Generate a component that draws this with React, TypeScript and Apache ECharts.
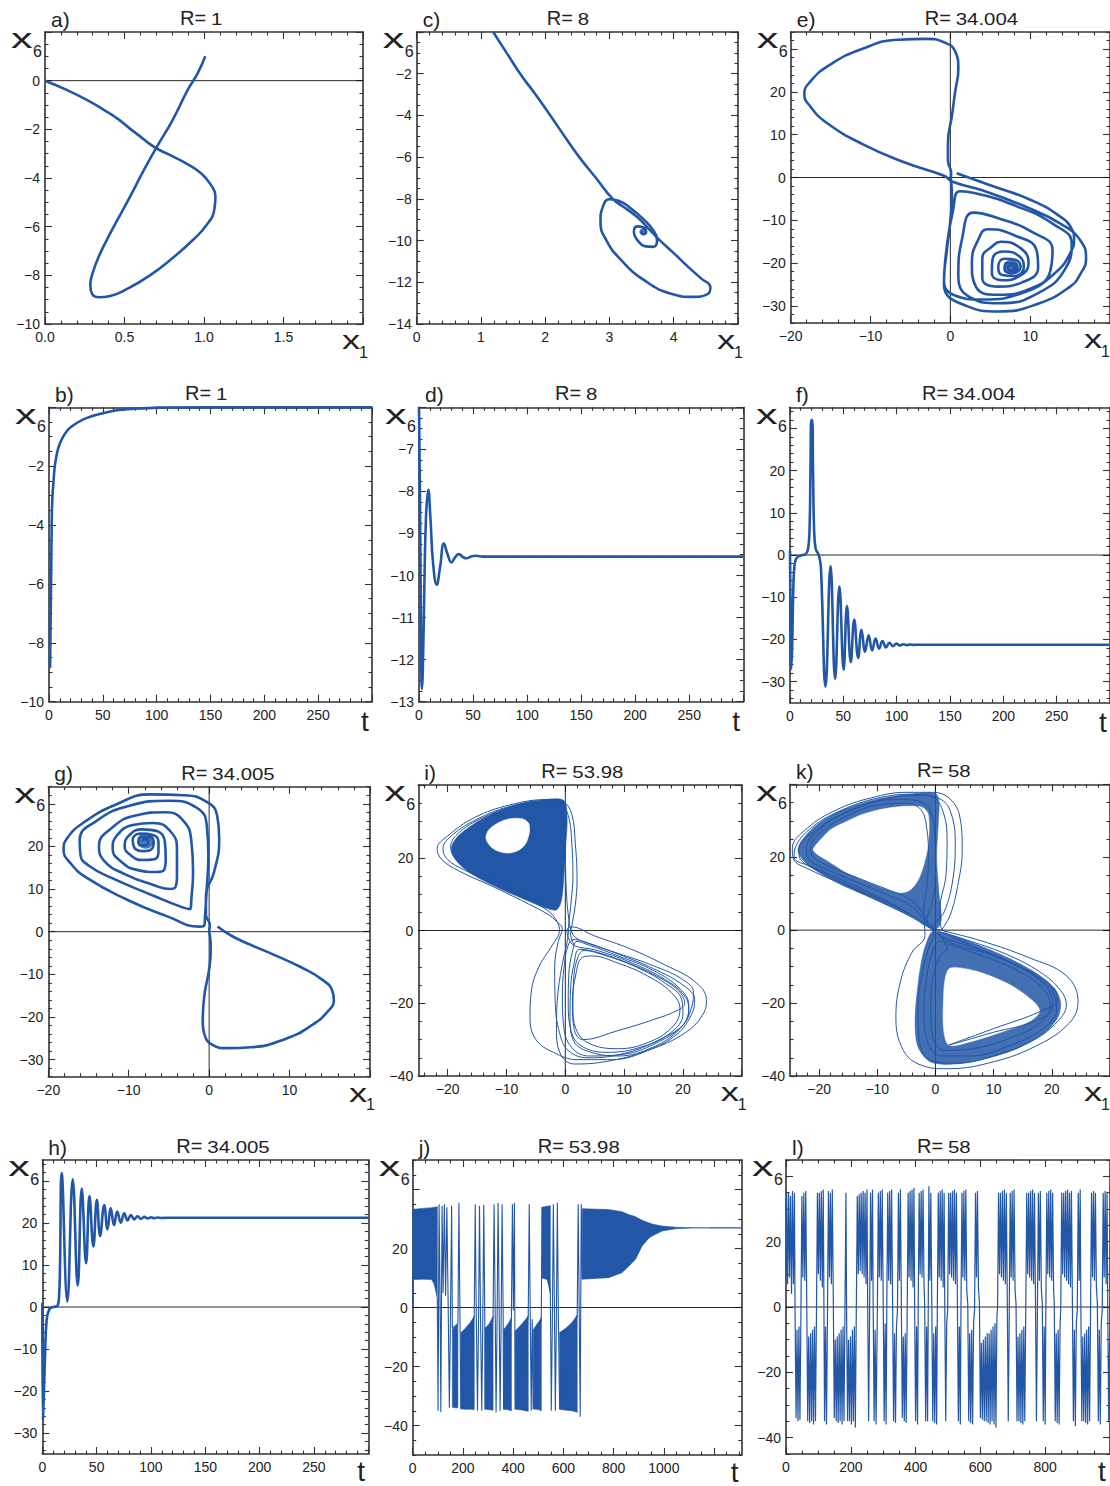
import React, { useEffect, useRef } from "react";
import * as echarts from "echarts";

const FONT = "'Liberation Sans', Arial, Helvetica, sans-serif";
const BLUE = "#2256a6";
const FRAME = "#333333";
const INK = "#222222";

// ---------------- data ----------------
// a) R=1 phase portrait [x1, x6]
const aPhase = [
  [0, 0], [0.137, -0.38], [0.263, -0.79], [0.37, -1.2], [0.46, -1.58], [0.53, -1.95], [0.6, -2.3], [0.662, -2.62],
  [0.72, -2.85], [0.8, -3.1], [0.893, -3.42], [0.98, -3.8], [1.04, -4.25], [1.072, -4.75], [1.065, -5.3],
  [1.02, -5.9], [0.93, -6.55], [0.8, -7.3], [0.66, -8.0], [0.52, -8.55], [0.41, -8.85], [0.34, -8.9],
  [0.295, -8.75], [0.285, -8.4], [0.3, -7.9], [0.34, -7.2], [0.42, -6.15], [0.52, -4.95], [0.62, -3.7], [0.704, -2.71],
  [0.8, -1.65], [0.9, -0.35], [0.96, 0.3], [1.008, 1.0],
];
// b) R=1 time series [t, x6]
const bTime = [
  [1, -8.86], [1.5, -7.2], [2, -5.7], [2.5, -4.0], [3, -3.2], [4, -2.6], [5.6, -1.94], [8.75, -1.37], [13.4, -0.98],
  [19.7, -0.69], [32, -0.41], [48, -0.22], [63, -0.1], [79, -0.05], [101, -0.01], [150, 0], [300, 0],
];
// c) R=8 phase portrait
const cPhase = [
  [1.19, 0], [1.4, -1], [1.61, -2], [1.85, -3], [2.08, -4], [2.3, -5], [2.53, -6], [2.79, -7], [3.05, -8],
  [3.25, -8.45], [3.44, -8.9], [3.6, -9.4], [3.78, -9.98], [4.0, -10.6], [4.22, -11.25],
  [4.42, -11.8], [4.57, -12.25], [4.52, -12.58], [4.3, -12.7], [3.96, -12.55], [3.54, -11.9], [3.18, -10.93],
  [2.95, -9.98], [2.86, -9.1], [2.9, -8.35], [3.0, -8.02], [3.15, -8.1], [3.33, -8.45], [3.52, -8.95], [3.68, -9.5],
  [3.74, -10.0], [3.68, -10.3], [3.56, -10.28], [3.44, -10.0], [3.38, -9.6], [3.43, -9.32], [3.52, -9.36],
  [3.57, -9.6], [3.53, -9.7], [3.5, -9.6], [3.52, -9.55],
];
const cFixed = [3.52, -9.58];
// d) R=8 time series
const dTime = [
  [0, -6.0], [1, -8.5], [2, -11.8], [2.7, -12.7], [3.5, -12.3], [5, -10.2], [6.5, -8.6], [8.6, -7.96], [10.5, -8.6],
  [13, -9.7], [16.4, -10.22], [19.5, -9.8], [23, -9.24], [26.5, -9.5], [30, -9.69], [33.5, -9.56], [37, -9.49],
  [40.5, -9.56], [44, -9.59], [48, -9.55], [52, -9.53], [60, -9.55], [300, -9.55],
];
// e) R=34.004 phase portrait
const ePhase = [
  [0.8, 1.0], [5, -1.8], [10, -5.2], [13.5, -8.8], [15.2, -12], [15.5, -14.5], [15.2, -17], [13, -22.5], [9, -27],
  [4, -28.5], [0.5, -27.5], [-0.8, -24], [-0.5, -18], [0, -10], [0.2, -4], [0.1, -1], [0.05, -0.2],
  [0.1, 1], [-0.3, 4], [-0.3, 8], [0.2, 14.5], [0.6, 20], [1, 25.4], [0.6, 29.5], [-0.8, 31.6], [-3, 32.4],
  [-6.5, 32.2], [-11, 30.1], [-15.2, 26.2], [-17.6, 22.3], [-18.3, 19.5], [-17.5, 16.5], [-15.5, 12.8], [-11, 7.8],
  [-5.7, 3.5], [-0.8, 0.4],
  [0.3, -1], [4, -3], [9, -6.5], [14, -11], [16.4, -15], [17, -19], [16.3, -22.5], [15, -25.5], [11, -29.5],
  [6, -31.3], [2, -30], [-0.8, -25], [-0.5, -17], [0.3, -8], [1.2, -3.2],
  [3, -3.6], [8, -6.5], [13, -11], [15.2, -15.5], [14.5, -21], [11, -27], [6, -29.4], [2.5, -28], [1, -23],
  [1.5, -14], [2.9, -8.2],
  [6, -9.5], [10, -12.5], [12.8, -17], [12.5, -22], [10, -26], [6, -27.4], [3.2, -25.5], [2.7, -20], [3.5, -14.5],
  [4.7, -12.1],
  [8, -13.5], [10.8, -17], [11, -21], [9, -24.5], [6, -25.5], [4, -23.5], [4, -19], [5.3, -16], [6.3, -15],
  [8.8, -16.5], [9.8, -20], [8.7, -23], [6.5, -24], [5.2, -22.3], [5.3, -19], [6.8, -17.3],
  [8.7, -18.5], [9.2, -21], [8, -23], [6.5, -22.8], [6, -21], [6.8, -19], [8.2, -19.3], [8.8, -21], [7.8, -22.3],
  [6.8, -21.5], [7, -20], [8.2, -20.1], [8.4, -21.2], [7.6, -21.8], [7.2, -21], [7.8, -20.5], [8.1, -21.2],
  [7.7, -21.4],
];
const eFixed = [7.6, -21];
// f) R=34.004 time series
const fTime = [
  [0, 1], [0.5, -15], [1.2, -27], [2, -22], [3, -9], [4, -3], [5.5, -1], [8, -0.3], [12, 0], [15, 0.3], [17, 1.5],
  [18.3, 6], [19.2, 20], [20, 32], [20.8, 32], [21.6, 20], [22.6, 6], [24, 1.5], [26, 0.5], [27.5, -0.5], [29, -3],
  [33.3, -31.2], [38, -2.6], [42.3, -29.4], [46.3, -7.5], [50.3, -27.2], [53.4, -12.1], [57, -25.4], [60.2, -15.3],
  [63.9, -24.4], [67, -17.7], [70.4, -22.9], [73.7, -19], [77, -22.6], [80.3, -19.8], [83.5, -22.2], [86.7, -20.4],
  [90, -21.9], [93.2, -20.8], [96.5, -21.6], [99.7, -21.0], [103, -21.45], [106.2, -21.15], [109.5, -21.35],
  [113, -21.2], [116, -21.3], [120, -21.25], [300, -21.25],
];
// g) R=34.005 phase portrait
const gPhase = [
  [1.04, 1.2], [3.1, -1.3], [7.3, -4.8], [11.5, -8.4], [14.1, -11.3], [15.3, -13.8], [15.5, -16], [14.9, -18.4],
  [12.7, -22], [9.4, -25.2], [5.2, -27.1], [2.3, -27.3], [0.3, -26.4], [-0.6, -24], [-0.8, -21.3], [-0.6, -15],
  [0, -8.8], [0.2, -4.1], [0.1, -0.9], [0, 0],
  [0.1, 1.5], [-0.4, 4], [-0.4, 8.4], [0.6, 13.9], [1.25, 21.7], [1, 27.2], [-0.2, 30.3], [-3.1, 32], [-7.3, 32.2],
  [-11.5, 29.9], [-15.6, 25.6], [-17.7, 21.8], [-18.1, 19.2], [-17.3, 16.2], [-15.2, 12.6], [-10.2, 7.5],
  [-5.2, 3.6], [-1.2, 1.2], [-0.6, 1.5],
  [-0.5, 4], [-0.3, 10], [-0.1, 18], [-0.3, 25], [-1.5, 29], [-5, 30.7], [-10, 29.5], [-14, 26], [-16.1, 21.5],
  [-16, 18], [-14.8, 15.3], [-12, 12.5], [-7, 8.5], [-3.3, 5.7], [-2.4, 5.3],
  [-2.2, 8], [-2, 14], [-2.2, 21], [-3.2, 26], [-5.5, 28], [-9, 27.3], [-12, 24.5], [-13.7, 20], [-13, 16.5],
  [-10.5, 13.5], [-7, 11], [-4.8, 10], [-4.2, 10.4],
  [-4, 13], [-4, 19], [-4.8, 23.5], [-7, 25.5], [-9.5, 25], [-11.5, 22.5], [-12, 19.5], [-11, 16.5], [-9, 14.5],
  [-6.5, 14], [-5.6, 14.5],
  [-5.4, 17], [-5.5, 21], [-6.5, 23.6], [-8.3, 24], [-10, 22.5], [-10.5, 20], [-9.8, 18], [-8.3, 16.8], [-6.8, 17],
  [-6.3, 18.8], [-6.3, 21], [-7, 22.7], [-8.5, 23], [-9.5, 21.5], [-9.3, 19.7], [-8.2, 18.9], [-7.1, 19.5],
  [-6.9, 21], [-7.4, 22.2], [-8.5, 22.2], [-8.8, 21], [-8.3, 20.2], [-7.6, 20.6], [-7.6, 21.5], [-8.1, 21.7],
  [-8.2, 21.2],
];
const gFixed = [-7.9, 21.3];
// h) R=34.005 time series
const hTime = [
  [0, 1], [0.5, -27], [1.5, -20], [2.5, -12], [4, -3], [6.5, -0.5], [10, 0], [14, 0.3], [15.5, 3], [16.3, 10],
  [17.8, 31.9], [23, 1.3], [28, 30.4], [32.6, 5.1], [36.3, 28.2], [40.3, 10.4], [43.4, 26.4], [47, 14.4],
  [50.2, 25.5], [53.2, 16.9], [57, 24.3], [60, 18.5], [63, 23.5], [66, 19.5], [69, 22.7], [72.3, 20.1],
  [75.4, 22.3], [78.5, 20.6], [81.5, 21.9], [84.6, 20.85], [87.7, 21.6], [90.8, 21.0], [94, 21.45], [97, 21.1],
  [100, 21.35], [103, 21.15], [106, 21.3], [110, 21.2], [115, 21.25], [300, 21.25],
];
// i) R=53.98 phase portrait: dense region outline, its hole, and individual orbits
const iDenseOutline = [
  [-0.3, 35.8], [0.3, 31], [0.1, 24], [-0.2, 16], [-0.5, 10], [-0.9, 7], [-1.6, 5.6], [-3.5, 6.3], [-7, 8.6],
  [-11, 11.4], [-14.5, 14.2], [-17.3, 17.2], [-19, 20.3], [-19.3, 23.2], [-18.2, 26], [-15.8, 29], [-12.5, 32],
  [-8.5, 34.5], [-4.5, 35.8],
];
const iHole = [
  [-13.5, 25.4], [-13, 27.7], [-11.5, 29.5], [-9.5, 30.7], [-7.3, 30.7], [-6.25, 29.5], [-6.1, 27.2], [-6.7, 24],
  [-7.8, 22.2], [-9.5, 21.3], [-11.25, 21.7], [-12.7, 23.1],
];
const iOrbit = [
  [1.5, -4], [0.9, -1], [1.2, 2], [1.7, 7], [2, 14], [1.7, 24], [1.1, 32], [-0.3, 35.3], [-3, 36], [-9.5, 34.5],
  [-15.5, 31], [-20, 26], [-21.8, 22.5], [-21, 19.5], [-18, 16.3], [-13, 12.6], [-7.5, 8.3], [-3, 4.5],
  [-1.5, 2.5], [-0.5, 0.5],
  [-1.2, -3], [-1.8, -10], [-1.7, -20], [-1, -28], [0.5, -33], [4, -35], [10, -33.8], [16, -30], [20.5, -25],
  [21, -20.5], [19.5, -16], [15, -11], [9, -7], [4, -4], [2, -3],
  [1.2, -6], [0.6, -12], [0.5, -20], [0.9, -27], [2.5, -31.5], [7, -33.5], [13, -32], [18, -28], [20, -23],
  [19.8, -19], [17, -14.5], [12, -10], [7, -7], [3.2, -5.5],
  [2, -8], [1.4, -14], [1.3, -21], [1.8, -27], [4, -31], [9, -32.5], [14.5, -30.5], [18.5, -26], [19.5, -21.5],
  [18, -17], [14, -12.5], [9, -9], [4.5, -7], [2.8, -7.5],
  [1.8, -12], [1.2, -20], [1.5, -27], [3, -30], [9, -27.5], [15, -24.5], [19, -22], [20.3, -20], [19.2, -16.5],
  [15.5, -12.5], [10, -8.5], [5, -5.8], [2.4, -5.2],
  [1.5, -9], [0.9, -16], [0.8, -24], [1.3, -30], [3.5, -33], [9, -34.5], [15, -32], [19.5, -27], [21, -22],
  [20.3, -18], [17, -13.5], [11, -8.7], [5, -5.3], [1.6, -4.2],
  [0.5, -2], [0.3, 0.2], [1, 1], [5, -1.5], [11, -5], [17, -9.5], [22, -14], [24, -19], [23.6, -22.5], [20.5, -28],
  [14, -33], [7, -36], [1.5, -36.7], [-0.8, -34], [-1.5, -27], [-1.3, -18], [-0.6, -10], [0.2, -4], [0.5, -1],
  [0.6, 2], [1, 8], [1.3, 15], [1.1, 24], [0.6, 31], [-0.6, 34.5], [-3.5, 35.5], [-9, 34.3], [-14.5, 31],
  [-19, 26.5], [-20.8, 22.5], [-20, 19.5], [-17, 16.5], [-12, 12.8], [-7, 9], [-3, 5.5], [-1.4, 2.5], [-1, 0],
  [-2.2, -4], [-4.5, -10], [-5.8, -17], [-6, -24], [-5, -30], [-2, -33.5], [2, -35.5], [8, -35.5], [14, -33],
  [19, -28.5], [21.5, -23], [22, -19], [20, -15], [15, -10.5], [9, -6.5], [4, -3.5], [1.5, -2.5],
  [0.5, -4], [-0.2, -10], [-0.5, -18], [-0.3, -26], [1, -32], [4, -34.5], [10, -34], [16, -30.5], [20, -26],
  [21.5, -21], [21.8, -17], [20, -13.5], [15, -9.7], [9, -6.3], [4, -3.6], [1.8, -2], [1, 0],
  [0.6, 3], [0.2, 10], [0, 20], [-0.2, 28], [-1, 33], [-4, 34.8], [-9, 34], [-14, 31], [-18, 27], [-19.5, 23],
  [-18.8, 20], [-16, 17], [-11, 13.5], [-6, 10], [-2.5, 7],
];
// k) R=58 phase portrait: dense band outlines, holes, individual orbits
const kUpperOutline = [
  [0, 37.5], [-4.3, 37.3], [-9.9, 36], [-15.6, 33.2], [-20.2, 29.1], [-23, 24.5], [-23.6, 21.5], [-22, 18],
  [-17.5, 13.5], [-12, 9.5], [-6.5, 5.5], [-3, 2.8], [-1.2, 1], [0.3, 0.5], [1, 3], [0.6, 10], [0.2, 20],
  [0.5, 30], [0.6, 35],
];
const kUpperHole = [
  [-21, 22.2], [-19.5, 25.2], [-17.9, 27.7], [-15, 30], [-12.8, 31.6], [-10, 32.9], [-7.1, 33.7], [-4.5, 34],
  [-2.3, 33.7], [-1.3, 32], [-1.1, 28], [-1.3, 23], [-2, 18], [-2.9, 14], [-4, 11.5], [-5, 10.5], [-6.3, 10.3],
  [-8.8, 11.5], [-12, 13.5], [-15.5, 16], [-18.5, 19], [-20.5, 21],
];
const kLowerOutline = [
  [0.5, -0.5], [3, -1.5], [8, -4.5], [13, -8], [17.5, -12], [20.5, -16], [21.5, -20], [21, -24], [18.5, -28.5],
  [14, -32.5], [8, -35.5], [2.5, -36.8], [-1, -36], [-3, -32], [-3.5, -25], [-3, -15], [-2.2, -7], [-1.2, -2],
  [-0.5, -0.3],
];
const kLowerHole = [
  [2.6, -10.4], [7.1, -11.3], [12.8, -15], [16.8, -19.5], [17.9, -22.3], [16.2, -25], [11.6, -27.8], [6, -30.6],
  [2.3, -31.5], [1.4, -26.9], [1.4, -18.6], [1.7, -13.1],
];
const kOrbit = [
  [1, 0], [2.5, 4], [3.8, 12], [4.6, 22], [4.2, 31], [2.5, 36], [-0.5, 37.8], [-5, 37.8], [-11, 36.3], [-17, 33],
  [-22, 28], [-24.6, 22.5], [-24.4, 19.5], [-21.5, 16.5], [-15, 12], [-9, 7.5], [-4, 3.5], [-1.5, 1], [0, 0],
  [0.5, -0.3], [5, -2.5], [12, -6.5], [18, -11.5], [21.5, -16.5], [22.5, -20.5], [21, -25], [17, -30], [10, -34.5],
  [3.5, -36.5], [-1, -35.5], [-2.8, -30], [-3, -21], [-2.3, -12], [-1.2, -5], [-0.3, -1],
  [-0.5, 0.3], [1.5, 5], [3, 14], [3.4, 24], [2.7, 32], [1, 35.8], [-3, 37], [-9, 35.8], [-15, 32.5],
  [-20.5, 27.5], [-23.5, 22], [-23, 19], [-19.5, 15.8], [-13.5, 11.3], [-7.5, 7], [-3, 3], [-1, 0.8],
  [1.5, -2], [7, -5], [13, -9], [18, -13.5], [20.5, -18], [20.8, -22], [18.5, -27], [13, -31.5], [6, -34.5],
  [1, -34.5], [-1.5, -30], [-2, -22], [-1.5, -13], [-0.5, -6], [0.8, -3],
  [2.5, -4], [8, -7], [14, -11], [18.5, -16], [19.8, -21], [18, -25.5], [13, -29.5], [6.5, -32.5], [1.5, -33],
  [-0.5, -29], [-0.8, -20], [-0.3, -12], [0.8, -7], [2, -5],
  [1, -2], [-1.5, 2.5], [-0.5, 8], [0, 16], [-0.1, 25], [-0.6, 31.5], [-2, 34.8], [-6, 35.8], [-11, 35],
  [-16, 31.8], [-20, 27.5], [-22.2, 22.5], [-21.8, 19.5], [-18.5, 16.5], [-13, 12.8], [-8, 9.5], [-4.5, 7],
  [-2.5, 4], [-1, 1],
  [1, 0], [8, -3], [16, -7.5], [22.5, -12.5], [24.5, -19.5], [23, -25.5], [17, -32], [9, -36.5], [2, -38],
  [-2.5, -37], [-5.5, -33], [-6.8, -24], [-6, -14], [-4, -6], [-1.8, -1.5],
  [-2, 5], [-1.5, 12], [-1.2, 20], [-1.5, 28], [-2.5, 33], [-5, 34.8], [-10, 34.3], [-15, 31.5], [-19.5, 27],
  [-21.5, 22.5], [-21, 20], [-17.5, 17], [-12.5, 13.8], [-8, 11], [-5, 9], [-3, 6.5], [-1.2, 2],
  [2, -3], [9, -6.5], [15.5, -11], [19.5, -16.5], [20.2, -21], [17, -25], [10, -28], [3.5, -31], [2.3, -31.5],
  [10, -27], [18, -22.3], [21, -19], [19, -14], [13, -9], [6, -4], [2, -1], [0.8, 2],
  [0.8, 6], [1.8, 15], [2, 25], [1.2, 33], [-0.5, 36.5], [-4, 37.3], [-10, 36.2], [-16, 33], [-21, 28.5],
  [-24, 23], [-24.3, 20], [-21, 17.3], [-15, 13], [-9, 8.5], [-4.5, 4.5], [-1.8, 1.5],
];
// j) R=53.98 time series: dense oscillation bands [t, low, high] and switching strokes [t, x6]
const jBandStart = [[0, 0, 32], [2, 9.5, 33.3], [40, 9.6, 33.6], [75, 9.5, 33.8], [85, 8, 34], [92, 5.5, 34], [98, 3, 34.2]];
const jBandLow1 = [[158, -33.8, -7.3], [170, -34, -6.5], [180, -34, -5.5]];
const jBandLow2 = [[192, -34.4, -8.5], [210, -34.5, -7], [230, -34.5, -5], [245, -34.6, -3]];
const jBandLow3 = [[288, -34.5, -7], [305, -34.6, -5.5], [320, -34.8, -3]];
const jBandLow4 = [[362, -34.5, -7.5], [380, -34.7, -5.5], [393, -35, -3.5]];
const jBandLow5 = [[408, -34.5, -8], [430, -34.7, -6], [450, -35, -4], [460, -35.2, -2.8]];
const jBandLow6 = [[480, -34.4, -7.5], [500, -34.6, -5], [512, -35, -3.5]];
const jBandUp7 = [[515, 10, 34], [535, 9.5, 34.3], [548, 5, 34.5]];
const jBandLow8 = [[585, -34.5, -8.5], [610, -34.8, -7], [635, -35, -5], [655, -35.5, -2.5]];
const jBandEnd = [
  [675, 9.6, 33.5], [780, 10.1, 33.2], [833, 11.8, 32.5], [860, 14, 31.5], [887, 16.3, 30.8], [913, 20.8, 29.6],
  [940, 23.5, 28.7], [953, 24.2, 28.3], [993, 25.9, 27.6], [1047, 26.7, 27.2], [1113, 26.95, 27.05], [1180, 27, 27],
];
const jTail = [[1180, 27], [1310, 27]];
const jStrokes = [
  [98, 3], [101, -35], [105, 35], [109, 3], [112, -35.5], [117, 34.5], [121, 5], [126, 35], [131, 4], [136, 34],
  [141, 2], [146, -34], [150, -6], [155, 34.5], [158, -7],
  [180, -5.5], [184, 35.5], [188, -2], [192, -34.4],
  [245, -3], [249, 35], [253, -1], [258, -35], [262, -6], [266, 34.5], [270, -3], [275, -35], [279, -5],
  [283, 34.8], [287, -2], [288, -34.5],
  [320, -3], [324, 35], [328, 3], [332, -35.5], [336, -4], [340, 35.5], [344, 2], [348, -35], [352, -5],
  [356, 35], [360, -2], [362, -34.5],
  [393, -3.5], [397, 35], [401, -1], [405, 35.5], [408, -34.5],
  [460, -2.8], [464, 35], [468, -2], [472, -35], [476, -4], [480, -34.4],
  [512, -3.5], [515, 34],
  [548, 5], [552, -35], [556, -5], [560, 35], [564, 3], [568, -35], [572, -4], [576, 35.5], [580, -3],
  [585, -34.5],
  [655, -2.5], [659, 35], [663, -1], [667, -37], [671, 35], [675, 9.6],
];
// l) R=58 time series [t, x6]
const lTime = [
  [0, 8], [2, 35], [5, 7], [8, 35], [11, 9], [14, 34], [17, 4], [20, 35.5], [23, 7], [26, 35], [28, -2],
  [31, -34], [34, -7], [37, -35], [40, -6], [43, -34.5], [46, -3],
  [49, 34], [52, 9], [55, 35], [58, 8], [61, 35.5], [64, 2],
  [67, -35], [70, -9], [73, -35.5], [76, -8], [79, -35], [82, -7], [85, -36], [88, -6], [91, -35], [94, -2],
  [97, 35], [100, 10], [103, 35], [106, 8], [109, 35.5], [112, 6], [115, 36], [117, 1],
  [119, -35], [122, -6], [125, -36], [128, -2],
  [131, 35.5], [134, 9], [137, 35], [140, 7], [143, 36], [146, 2],
  [149, -34], [152, -10], [155, -35], [158, -9], [161, -35.5], [164, -8], [167, -35], [170, -7], [173, -36],
  [176, -6], [179, -35], [182, -1], [185, 35], [187, -1],
  [190, -35], [193, -10], [196, -35], [199, -9], [202, -36], [205, -7], [208, -35], [211, -6], [214, -37], [217, -1],
  [220, 34], [223, 10], [226, 34.5], [229, 11], [232, 35], [235, 10], [238, 35.5], [241, 9], [244, 35], [247, 7],
  [250, 36], [252, 2],
  [255, -35], [258, -3], [261, 35], [264, 8], [267, 36], [269, 1],
  [272, -35], [275, -7], [278, -36], [282, -1],
  [285, 35], [288, 9], [291, 35.5], [294, 8], [297, 36], [300, 2],
  [303, -35], [306, -5], [309, -36], [311, -1],
  [314, 35], [317, 8], [320, 35.5], [323, 7], [326, 36], [329, 1],
  [332, -35], [335, -8], [338, -35.5], [341, -6], [344, -1],
  [347, 35], [350, 8], [353, 36], [356, 1],
  [359, -34], [362, -9], [365, -35], [368, -8], [371, -35.5], [374, -2],
  [377, 35], [380, 9], [383, 35.5], [386, 8], [389, 36], [392, 6], [395, 36.5], [397, 1],
  [400, -35], [403, -6], [406, -36], [408, -1],
  [411, 35], [414, 10], [417, 35.5], [420, 9], [423, 36], [426, 7], [428, 1],
  [431, -35], [434, -6], [437, -35], [439, -1],
  [441, 37], [444, 8], [447, 35], [450, 1],
  [453, -35], [456, -8], [459, -35.5], [462, -6], [465, -36], [467, -1],
  [470, 35], [473, 9], [476, 35.5], [479, 8], [482, 36], [485, 6], [488, 35], [490, 1],
  [493, -35], [496, -5], [499, -1],
  [502, 35], [505, 10], [508, 35], [511, 9], [514, 35.5], [517, 8], [520, 36], [523, 7], [526, 35], [529, 1],
  [532, -35], [535, -6], [538, -36], [540, -1],
  [543, 35], [546, 9], [549, 35.5], [552, 8], [555, 36], [558, 5], [561, 1],
  [564, -35], [567, -8], [570, -35.5], [573, -7], [576, -36], [579, -5], [582, -1],
  [585, 35], [588, 9], [591, 35.5], [594, 6], [597, 1],
  [600, -34], [603, -11], [606, -34.5], [609, -10], [612, -35], [615, -9], [618, -35], [621, -8], [624, -35.5],
  [627, -8], [630, -36], [633, -7], [636, -35], [639, -6], [642, -36], [645, -5], [648, -37], [651, -3], [653, 0],
  [656, 35], [659, 10], [662, 35], [665, 9], [668, 35.5], [671, 8], [674, 36], [677, 7], [680, 35], [683, 2],
  [686, -35], [689, -2],
  [692, 35], [695, 9], [698, 35.5], [701, 8], [704, 36], [707, 5], [710, 1],
  [713, -35], [716, -9], [719, -35], [722, -8], [725, -35.5], [728, -7], [731, -36], [734, -6], [737, -35], [740, -1],
  [743, 35], [746, 10], [749, 35], [752, 9], [755, 35.5], [758, 8], [761, 36], [764, 7], [767, 35], [770, 2],
  [773, -35], [776, -1], [779, 35], [782, 8], [785, 35.5], [788, 6], [791, 1],
  [794, -35], [797, -6], [800, -36], [802, -1],
  [805, 35], [808, 10], [811, 35.5], [814, 9], [817, 36], [820, 8], [823, 35], [826, 5], [828, 1],
  [831, -35], [834, -8], [837, -35.5], [840, -7], [843, -36], [846, -5], [848, -1],
  [851, 35], [854, 10], [857, 35], [860, 9], [863, 35.5], [866, 8], [869, 36], [872, 7], [875, 35], [878, 6],
  [881, 35.5], [884, 1],
  [887, -35], [890, -7], [893, -36.5], [896, -5], [899, -1],
  [902, 35], [905, 8], [908, 36], [910, 1],
  [913, -35], [916, -9], [919, -35], [922, -8], [925, -35.5], [928, -7], [931, -36], [934, -6], [937, -35], [940, -1],
  [943, 35], [946, 9], [949, 35.5], [952, 8], [955, 35], [958, 6], [961, 1],
  [964, -35], [967, -7], [970, -36], [973, -5], [976, -1],
  [979, 35], [982, 9], [985, 35.5], [988, 7], [991, 35], [993, 1],
  [996, -35], [999, -8],
];

// ---------------- panel layout ----------------
type Panel = {
  id: string; letter: string; r: string; rOff: number;
  left: number; top: number; width: number; height: number;
  x: [number, number]; y: [number, number];
  xs: number; xm: number; ys: number; ym: number;
  xHide: number[]; yHide: number[]; xDec: number;
  name: "x" | "t"; zeroH: boolean; zeroV: boolean; tDy: number; nameX?: number;
};

const PANELS: Panel[] = [
  { id: "a", letter: "a)", r: "1", rOff: 135, left: 45, top: 32, width: 318, height: 292, x: [0, 2], y: [-10, 2], xs: 0.5, xm: 0.1, ys: 2, ym: 0.5, xHide: [2], yHide: [2], xDec: 1, name: "x", zeroH: true, zeroV: false, tDy: 0 },
  { id: "c", letter: "c)", r: "8", rOff: 130, left: 416.7, top: 32, width: 321.3, height: 292, x: [0, 5], y: [-14, 0], xs: 1, xm: 0.2, ys: 2, ym: 0.5, xHide: [5], yHide: [0], xDec: 0, name: "x", zeroH: false, zeroV: false, tDy: 0 },
  { id: "e", letter: "e)", r: "34.004", rOff: 134, left: 790.7, top: 32, width: 324.3, height: 291, x: [-20, 20], y: [-34, 34], xs: 10, xm: 2, ys: 10, ym: 2, xHide: [20], yHide: [30], xDec: 0, name: "x", zeroH: true, zeroV: true, tDy: 0, nameX: 1084 },
  { id: "b", letter: "b)", r: "1", rOff: 136, left: 49, top: 407.3, width: 323, height: 294.4, x: [0, 300], y: [-10, 0], xs: 50, xm: 10, ys: 2, ym: 0.5, xHide: [300], yHide: [0], xDec: 0, name: "t", zeroH: false, zeroV: false, tDy: 20 },
  { id: "d", letter: "d)", r: "8", rOff: 136, left: 419, top: 407.3, width: 324.3, height: 294.4, x: [0, 300], y: [-13, -6], xs: 50, xm: 10, ys: 1, ym: 0.25, xHide: [300], yHide: [-6], xDec: 0, name: "t", zeroH: false, zeroV: false, tDy: 20 },
  { id: "f", letter: "f)", r: "34.004", rOff: 132, left: 790, top: 407.3, width: 324, height: 295.4, x: [0, 300], y: [-35, 35], xs: 50, xm: 10, ys: 10, ym: 2, xHide: [300], yHide: [30], xDec: 0, name: "t", zeroH: true, zeroV: false, tDy: 20, nameX: 1099 },
  { id: "g", letter: "g)", r: "34.005", rOff: 133, left: 48.3, top: 786.7, width: 321.7, height: 290, x: [-20, 20], y: [-34, 34], xs: 10, xm: 2, ys: 10, ym: 2, xHide: [20], yHide: [30], xDec: 0, name: "x", zeroH: true, zeroV: true, tDy: 0 },
  { id: "i", letter: "i)", r: "53.98", rOff: 123, left: 418.3, top: 785, width: 323.4, height: 291, x: [-25, 30], y: [-40, 40], xs: 10, xm: 2, ys: 20, ym: 5, xHide: [30], yHide: [40], xDec: 0, name: "x", zeroH: true, zeroV: true, tDy: 0 },
  { id: "k", letter: "k)", r: "58", rOff: 127, left: 790, top: 784.3, width: 323, height: 291.7, x: [-25, 30], y: [-40, 40], xs: 10, xm: 2, ys: 20, ym: 5, xHide: [30], yHide: [40], xDec: 0, name: "x", zeroH: true, zeroV: true, tDy: 0, nameX: 1084 },
  { id: "h", letter: "h)", r: "34.005", rOff: 134, left: 42.3, top: 1160, width: 326, height: 294, x: [0, 300], y: [-35, 35], xs: 50, xm: 10, ys: 10, ym: 2, xHide: [300], yHide: [30], xDec: 0, name: "t", zeroH: true, zeroV: false, tDy: 17 },
  { id: "j", letter: "j)", r: "53.98", rOff: 125, left: 412.7, top: 1160, width: 329, height: 295, x: [0, 1310], y: [-50, 50], xs: 200, xm: 50, ys: 20, ym: 5, xHide: [1200], yHide: [40], xDec: 0, name: "t", zeroH: true, zeroV: false, tDy: 17 },
  { id: "l", letter: "l)", r: "58", rOff: 131, left: 786, top: 1160, width: 325, height: 294, x: [0, 1000], y: [-45, 45], xs: 200, xm: 50, ys: 20, ym: 5, xHide: [1000], yHide: [40], xDec: 0, name: "t", zeroH: true, zeroV: false, tDy: 17, nameX: 1098 },
];

function ticks(min: number, max: number, step: number): number[] {
  const out: number[] = [];
  const k0 = Math.ceil(min / step - 1e-9);
  const k1 = Math.floor(max / step + 1e-9);
  for (let k = k0; k <= k1; k++) out.push(+(k * step).toFixed(6));
  return out;
}
const fmt = (v: number, dec: number) => {
  const s = Math.abs(v).toFixed(dec);
  return v < -1e-9 ? "\u2212" + s : s;
};

function axis(gi: number, pos: string, range: [number, number], tv: number[], lv: number[] | null, showLine: boolean, len: number, dec: number) {
  return {
    type: "value", gridIndex: gi, position: pos, min: range[0], max: range[1],
    axisLine: { show: showLine, onZero: false, lineStyle: { color: FRAME, width: 1.6 } },
    axisTick: { show: true, inside: true, length: len, customValues: tv, lineStyle: { color: FRAME, width: 1.1 } },
    axisLabel: lv
      ? { show: true, customValues: lv, formatter: (v: number) => fmt(v, dec), color: INK, fontSize: 14, fontFamily: FONT, margin: pos === "bottom" ? 6 : 5 }
      : { show: false },
    splitLine: { show: false }, minorTick: { show: false }, minorSplitLine: { show: false },
    axisPointer: { show: false }, silent: true,
  };
}

function seriesFor(id: string, gi: number): any[] {
  const ax = { xAxisIndex: gi * 4, yAxisIndex: gi * 4 };
  const L = (data: number[][], width: number, smooth: number | boolean = 0.5, z = 3) => ({
    type: "line", ...ax, data, showSymbol: false, symbol: "none", smooth, lineStyle: { color: BLUE, width },
    z, silent: true, clip: true, animation: false,
  });
  const dot = (pt: number[], size: number) => ({
    type: "scatter", ...ax, data: [pt], symbolSize: size, itemStyle: { color: BLUE }, z: 4, silent: true,
  });
  const poly = (pts: number[][], color: string, z: number, opacity = 1) => ({
    type: "custom", ...ax, data: pts, z, silent: true, clip: true,
    renderItem: (params: any, api: any) => {
      if (params.dataIndex !== 0) return null;
      return {
        type: "polygon",
        shape: { points: pts.map((p) => api.coord(p)), smooth: 0.3 },
        style: { fill: color, opacity, stroke: color, lineWidth: 0.6 },
      };
    },
  });
  const band = (rows: number[][]) => ({
    type: "custom", ...ax, data: rows, z: 2, silent: true, clip: true,
    renderItem: (params: any, api: any) => {
      if (params.dataIndex !== 0) return null;
      const pts = [...rows.map((r) => [r[0], r[2]]), ...rows.slice().reverse().map((r) => [r[0], r[1]])];
      return {
        type: "polygon",
        shape: { points: pts.map((p) => api.coord(p)) },
        style: { fill: BLUE, stroke: BLUE, lineWidth: 0.6 },
      };
    },
  });

  switch (id) {
    case "a": return [L(aPhase, 2.6)];
    case "b": return [L(bTime, 2.6, 0.3)];
    case "c": return [L(cPhase, 2.6), dot(cFixed, 7)];
    case "d": return [L(dTime, 2.6, 0.45)];
    case "e": return [L(ePhase, 2.6), dot(eFixed, 15)];
    case "f": return [L(fTime, 2.6, 0.45)];
    case "g": return [L(gPhase, 2.6), dot(gFixed, 16)];
    case "h": return [L(hTime, 2.6, 0.45)];
    case "i": return [poly(iDenseOutline, BLUE, 2), poly(iHole, "#ffffff", 2.5), L(iOrbit, 1.0, 0.4)];
    case "k": return [
      poly(kUpperOutline, BLUE, 2, 0.85), poly(kLowerOutline, BLUE, 2, 0.85),
      poly(kUpperHole, "#ffffff", 2.5), poly(kLowerHole, "#ffffff", 2.5), L(kOrbit, 1.0, 0.4),
    ];
    case "j": return [
      band(jBandStart), band(jBandLow1), band(jBandLow2), band(jBandLow3), band(jBandLow4), band(jBandLow5),
      band(jBandLow6), band(jBandUp7), band(jBandLow8), band(jBandEnd),
      L(jTail, 1.3, false), L(jStrokes, 1.1, false),
    ];
    case "l": return [L(lTime, 1.2, false)];
  }
  return [];
}

function txt(x: number, y: number, text: string, size: number, opts: any = {}) {
  return {
    type: "text", x, y, scaleX: opts.scaleX || 1, silent: true, z: 10,
    style: {
      text, font: `${size}px ${FONT}`, fill: INK,
      textAlign: opts.align || "left", textVerticalAlign: "middle", align: opts.align || "left", verticalAlign: "middle",
    },
  };
}

function buildOption() {
  const grid: any[] = [], xAxis: any[] = [], yAxis: any[] = [], series: any[] = [], graphic: any[] = [];
  PANELS.forEach((p, gi) => {
    grid.push({ left: p.left, top: p.top, width: p.width, height: p.height, containLabel: false });
    const xMaj = ticks(p.x[0], p.x[1], p.xs);
    const xMin = ticks(p.x[0], p.x[1], p.xm).filter((v) => !xMaj.some((m) => Math.abs(m - v) < 1e-6));
    const yMaj = ticks(p.y[0], p.y[1], p.ys);
    const yMin = ticks(p.y[0], p.y[1], p.ym).filter((v) => !yMaj.some((m) => Math.abs(m - v) < 1e-6));
    const xLab = xMaj.filter((v) => !p.xHide.some((h) => Math.abs(h - v) < 1e-6));
    const yLab = yMaj.filter((v) => !p.yHide.some((h) => Math.abs(h - v) < 1e-6));
    xAxis.push(axis(gi, "bottom", p.x, xMaj, xLab, true, 7, p.xDec));
    xAxis.push(axis(gi, "bottom", p.x, xMin, null, false, 3.5, 0));
    xAxis.push(axis(gi, "top", p.x, xMaj, null, true, 7, 0));
    xAxis.push(axis(gi, "top", p.x, xMin, null, false, 3.5, 0));
    yAxis.push(axis(gi, "left", p.y, yMaj, yLab, true, 7, 0));
    yAxis.push(axis(gi, "left", p.y, yMin, null, false, 3.5, 0));
    yAxis.push(axis(gi, "right", p.y, yMaj, null, true, 7, 0));
    yAxis.push(axis(gi, "right", p.y, yMin, null, false, 3.5, 0));

    const ax = { xAxisIndex: gi * 4, yAxisIndex: gi * 4 };
    if (p.zeroH) series.push({ type: "line", ...ax, data: [[p.x[0], 0], [p.x[1], 0]], showSymbol: false, symbol: "none", lineStyle: { color: "#111", width: 0.9 }, z: 1, silent: true });
    if (p.zeroV) series.push({ type: "line", ...ax, data: [[0, p.y[0]], [0, p.y[1]]], showSymbol: false, symbol: "none", lineStyle: { color: "#111", width: 0.9 }, z: 1, silent: true });
    series.push(...seriesFor(p.id, gi));

    const right = p.left + p.width, bottom = p.top + p.height;
    graphic.push(txt(p.left + 6, p.top - 13, p.letter, 21));
    graphic.push(txt(p.left + p.rOff, p.top - 14, "R=", 20));
    graphic.push(txt(p.left + p.rOff + 31, p.top - 13, p.r, 17, { scaleX: 1.2 }));
    graphic.push(txt(p.left - 34, p.top + 7, "x", 27, { scaleX: 1.6 }));
    graphic.push(txt(p.left - 12, p.top + 19, "6", 16));
    if (p.name === "x") {
      const nx = p.nameX !== undefined ? p.nameX : right - 21;
      graphic.push(txt(nx, bottom + 16, "x", 26, { scaleX: 1.4 }));
      graphic.push(txt(nx + 17, bottom + 28, "1", 16));
    } else {
      const nx = p.nameX !== undefined ? p.nameX : right - 11;
      graphic.push(txt(nx, bottom + p.tDy, "t", 28));
    }
  });
  return {
    animation: false, backgroundColor: "#ffffff",
    grid, xAxis, yAxis, series, graphic,
  };
}

export default function App() {
  const ref = useRef<HTMLDivElement>(null);
  useEffect(() => {
    const chart = echarts.init(ref.current as HTMLDivElement, undefined, { renderer: "svg" });
    chart.setOption(buildOption() as any);
    return () => chart.dispose();
  }, []);
  return (
    <div
      ref={ref}
      style={{ position: "absolute", left: 0, top: 0, width: 1110, height: 1486, background: "#fff" }}
    />
  );
}
